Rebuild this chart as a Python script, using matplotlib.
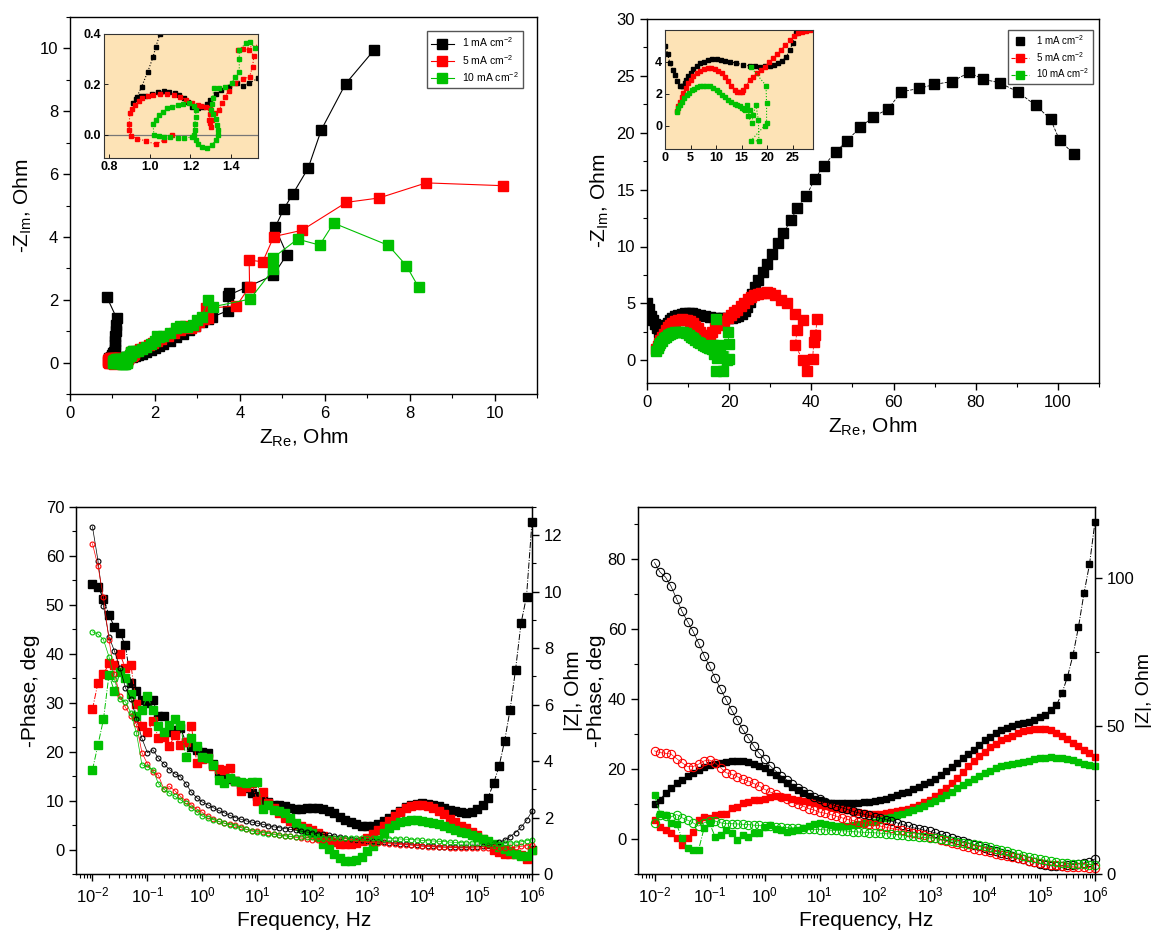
import matplotlib.pyplot as plt
from matplotlib.ticker import MultipleLocator, LogLocator, NullFormatter
from matplotlib.lines import Line2D
import numpy as np

plt.rcParams['font.family'] = ['Liberation Sans', 'DejaVu Sans']
plt.rcParams['mathtext.fontset'] = 'custom'
plt.rcParams['mathtext.rm'] = 'Liberation Sans'
plt.rcParams['mathtext.it'] = 'Liberation Sans:italic'
plt.rcParams['mathtext.bf'] = 'Liberation Sans:bold'

BLACK, RED, GREEN = '#000000', '#ff0000', '#00c000'
INSET_BG = '#fde3b6'
labels = ['1 mA cm$^{-2}$', '5 mA cm$^{-2}$', '10 mA cm$^{-2}$']

# ---------------- Nyquist, left (Z_Re, -Z_Im) ----------------
a_black = [(0.87, 2.08), (1.10, 1.41), (1.09, 1.20), (1.08, 1.00), (1.07, 0.85), (1.065, 0.70),
           (1.06, 0.55), (1.05, 0.40), (1.03, 0.35), (1.016, 0.308), (0.99, 0.25), (0.96, 0.19),
           (0.937, 0.151), (0.92, 0.124), (0.93, 0.14), (0.955, 0.152), (0.978, 0.155), (1.013, 0.16),
           (1.04, 0.168), (1.069, 0.173), (1.095, 0.17), (1.122, 0.167), (1.145, 0.158), (1.166, 0.147),
           (1.19, 0.128), (1.21, 0.11), (1.236, 0.104), (1.262, 0.11), (1.28, 0.122), (1.298, 0.137),
           (1.325, 0.16), (1.35, 0.177), (1.39, 0.19), (1.43, 0.204), (1.456, 0.193), (1.49, 0.205),
           (1.532, 0.224), (1.6, 0.25), (1.7, 0.28), (1.8, 0.33), (1.9, 0.40), (2.0, 0.47), (2.1, 0.53),
           (2.2, 0.60), (2.35, 0.70), (2.5, 0.80), (2.65, 0.92), (2.8, 1.03), (2.95, 1.15), (3.1, 1.28),
           (3.25, 1.38), (3.35, 1.45), (3.71, 1.65), (3.74, 2.20), (3.71, 2.13), (4.16, 2.40),
           (4.79, 2.78), (5.11, 3.44), (4.83, 4.30), (5.04, 4.90), (5.25, 5.37), (5.61, 6.19),
           (5.92, 7.41), (6.49, 8.87), (7.17, 9.96)]
a_red = [(1.11, 0.0), (1.07, -0.02), (1.03, -0.039), (0.98, -0.025), (0.937, -0.016), (0.91, -0.005),
         (0.899, 0.02), (0.899, 0.044), (0.902, 0.084), (0.915, 0.10), (0.928, 0.117), (0.945, 0.132),
         (0.964, 0.144), (0.99, 0.152), (1.016, 0.157), (1.05, 0.16), (1.087, 0.16), (1.12, 0.156),
         (1.148, 0.151), (1.18, 0.138), (1.21, 0.124), (1.235, 0.118), (1.254, 0.114), (1.275, 0.108),
         (1.298, 0.104), (1.295, 0.08), (1.293, 0.06), (1.298, 0.045), (1.30, 0.03), (1.305, 0.06),
         (1.32, 0.085), (1.342, 0.097), (1.355, 0.125), (1.368, 0.151), (1.39, 0.175), (1.42, 0.204),
         (1.46, 0.22), (1.491, 0.231), (1.505, 0.27), (1.512, 0.311), (1.49, 0.337), (1.46, 0.34),
         (1.435, 0.337), (1.55, 0.36), (1.65, 0.42), (1.75, 0.50), (1.85, 0.56), (1.95, 0.62),
         (2.05, 0.68), (2.15, 0.75), (2.3, 0.85), (2.45, 0.95), (2.6, 1.05), (2.7, 1.15), (2.85, 1.10),
         (2.95, 1.15), (3.05, 1.28), (3.15, 1.38), (3.24, 1.41), (3.21, 1.73), (3.92, 1.80),
         (4.23, 2.42), (4.22, 3.26), (4.54, 3.21), (4.80, 4.01), (5.46, 4.21), (6.51, 5.10),
         (7.28, 5.24), (8.39, 5.72), (10.21, 5.63)]
a_green = [(1.21, -0.01), (1.17, -0.013), (1.14, -0.013), (1.10, -0.01), (1.07, -0.009), (1.043, -0.005),
           (1.02, 0.0), (1.016, 0.044), (1.03, 0.06), (1.043, 0.077), (1.065, 0.09), (1.087, 0.104),
           (1.11, 0.11), (1.14, 0.117), (1.165, 0.12), (1.192, 0.124), (1.215, 0.115), (1.227, 0.097),
           (1.225, 0.07), (1.222, 0.044), (1.22, 0.02), (1.218, -0.003), (1.226, -0.02), (1.236, -0.036),
           (1.255, -0.048), (1.28, -0.053), (1.305, -0.04), (1.324, -0.023), (1.335, 0.0), (1.337, 0.017),
           (1.332, 0.04), (1.324, 0.064), (1.31, 0.082), (1.30, 0.097), (1.305, 0.12), (1.31, 0.147),
           (1.315, 0.184), (1.34, 0.187), (1.368, 0.19), (1.403, 0.204), (1.42, 0.23), (1.44, 0.25),
           (1.44, 0.30), (1.44, 0.337), (1.474, 0.364), (1.491, 0.367), (1.518, 0.344), (1.6, 0.36),
           (1.7, 0.42), (1.8, 0.50), (1.9, 0.58), (2.0, 0.70), (2.06, 0.85), (2.1, 0.80), (2.2, 0.85),
           (2.35, 0.95), (2.5, 1.10), (2.6, 1.15), (2.75, 1.12), (2.9, 1.20), (3.0, 1.35), (3.1, 1.45),
           (3.26, 1.99), (3.38, 1.78), (4.24, 2.02), (4.79, 2.97), (4.77, 3.32), (5.36, 3.93),
           (5.88, 3.74), (6.21, 4.44), (7.50, 3.73), (7.92, 3.09), (8.21, 2.40)]

# ---------------- Nyquist, right ----------------
b_black = [(0.0, 5.0), (0.5, 4.5), (0.98, 3.9), (1.5, 3.5), (1.96, 3.17), (2.4, 2.8), (2.94, 2.49),
           (3.26, 2.45), (3.6, 2.5), (3.9, 2.65), (4.2, 2.85), (4.57, 3.1), (5.0, 3.3), (5.55, 3.52),
           (6.2, 3.72), (6.85, 3.9), (7.6, 4.0), (8.5, 4.1), (9.3, 4.14), (10.1, 4.15), (11.0, 4.12),
           (11.75, 4.06), (12.8, 3.98), (14.0, 3.9), (15.3, 3.8), (16.6, 3.73), (17.6, 3.7), (18.6, 3.69),
           (19.6, 3.7), (20.6, 3.73), (21.4, 3.8), (22.2, 3.9), (23.0, 4.05), (23.8, 4.31), (24.4, 4.7),
           (25.0, 5.14), (25.6, 5.8), (26.2, 6.45), (27.0, 7.04), (28.2, 7.77), (29.3, 8.5), (30.4, 9.38),
           (31.9, 10.35), (33.2, 11.2), (35.0, 12.3), (36.6, 13.4), (38.7, 14.4), (40.8, 15.9),
           (43.0, 17.1), (45.9, 18.3), (48.7, 19.3), (51.9, 20.5), (55.1, 21.4), (58.7, 22.1),
           (61.9, 23.6), (66.3, 23.9), (69.9, 24.25), (74.2, 24.5), (78.4, 25.3), (81.8, 24.7),
           (85.8, 24.4), (90.2, 23.6), (94.6, 22.4), (98.2, 21.2), (100.4, 19.35), (103.9, 18.12)]
b_red = [(2.28, 0.95), (2.6, 1.25), (2.94, 1.51), (3.25, 1.78), (3.59, 2.03), (4.05, 2.35), (4.57, 2.65),
         (5.0, 2.88), (5.55, 3.1), (6.2, 3.3), (6.85, 3.44), (7.6, 3.54), (8.5, 3.59), (9.1, 3.57),
         (9.8, 3.52), (10.4, 3.42), (11.1, 3.27), (11.7, 3.05), (12.4, 2.8), (13.0, 2.5), (13.7, 2.24),
         (14.2, 2.12), (14.6, 2.09), (15.0, 2.13), (15.3, 2.24), (15.9, 2.5), (16.6, 2.86), (17.3, 3.07),
         (17.95, 3.27), (18.8, 3.48), (19.6, 3.69), (20.4, 3.95), (21.2, 4.21), (22.0, 4.45), (22.8, 4.73),
         (23.6, 5.05), (24.5, 5.35), (25.3, 5.57), (26.1, 5.76), (26.9, 5.85), (27.7, 5.9), (28.5, 5.95),
         (29.3, 5.97), (30.0, 5.92), (31.2, 5.72), (32.6, 5.28), (34.1, 4.99), (35.9, 4.1), (37.9, 3.52),
         (36.5, 2.64), (36.1, 1.32), (37.9, 0.0), (39.0, -0.94), (40.3, 0.15), (40.6, 1.61), (41.0, 2.2),
         (41.4, 3.67)]
b_green = [(2.3, 0.85), (2.6, 1.1), (2.9, 1.3), (3.26, 1.51), (3.7, 1.72), (4.24, 1.93), (4.7, 2.07),
           (5.22, 2.2), (5.7, 2.3), (6.2, 2.4), (6.85, 2.47), (7.5, 2.5), (8.1, 2.5), (8.8, 2.49),
           (9.4, 2.38), (10.1, 2.24), (10.6, 2.08), (11.1, 1.93), (11.7, 1.78), (12.4, 1.62), (13.0, 1.5),
           (13.7, 1.37), (14.2, 1.28), (14.6, 1.2), (15.0, 1.1), (15.4, 1.05), (15.7, 1.0), (16.0, 1.3),
           (16.6, 1.0), (16.3, 0.58), (17.0, 0.17), (17.3, 0.68), (17.8, 1.3), (18.3, 0.37), (18.4, -0.94),
           (16.8, -0.94), (19.5, 0.0), (19.9, 0.15), (19.9, 1.41), (19.8, 2.5), (16.8, 3.67)]

# ---------------- Bode: log10(frequency / Hz) ----------------
log_f = [-2.0, -1.9, -1.8, -1.7, -1.6, -1.5, -1.4, -1.3, -1.2, -1.1,
         -1.0, -0.9, -0.8, -0.7, -0.6, -0.5, -0.4, -0.3, -0.2, -0.1,
         0.0, 0.1, 0.2, 0.3, 0.4, 0.5, 0.6, 0.7, 0.8, 0.9,
         1.0, 1.1, 1.2, 1.3, 1.4, 1.5, 1.6, 1.7, 1.8, 1.9,
         2.0, 2.1, 2.2, 2.3, 2.4, 2.5, 2.6, 2.7, 2.8, 2.9,
         3.0, 3.1, 3.2, 3.3, 3.4, 3.5, 3.6, 3.7, 3.8, 3.9,
         4.0, 4.1, 4.2, 4.3, 4.4, 4.5, 4.6, 4.7, 4.8, 4.9,
         5.0, 5.1, 5.2, 5.3, 5.4, 5.5, 5.6, 5.7, 5.8, 5.9, 6.0]

# bottom-left: -phase (deg)
c_phase_black = [54.2, 53.7, 51.3, 47.9, 45.5, 44.2, 41.7, 34.0, 32.3, 30.5,
                 30.0, 30.5, 27.2, 27.2, 24.1, 24.5, 24.8, 22.0, 21.0, 20.4,
                 20.0, 19.7, 17.5, 15.6, 15.0, 14.5, 14.0, 13.3, 12.5, 11.6,
                 11.0, 10.2, 9.8, 9.2, 9.0, 8.8, 8.4, 8.2, 8.2, 8.4,
                 8.5, 8.4, 8.2, 7.9, 7.4, 6.6, 6.1, 5.7, 5.2, 4.9,
                 4.8, 4.9, 5.2, 5.8, 6.5, 7.2, 7.9, 8.6, 9.2, 9.4,
                 9.5, 9.4, 9.2, 8.9, 8.5, 8.1, 7.8, 7.6, 7.5, 7.6,
                 8.2, 9.0, 10.6, 13.5, 17.0, 22.1, 28.5, 36.7, 46.2, 51.7, 67.0]
c_phase_red = [28.7, 34.1, 35.8, 38.1, 37.7, 40.0, 37.0, 37.7, 29.8, 25.2,
               24.1, 26.2, 22.8, 23.0, 21.1, 23.5, 21.4, 22.0, 25.2, 17.7,
               18.5, 18.7, 17.0, 16.5, 16.3, 16.7, 14.0, 11.9, 12.8, 13.6,
               9.9, 11.8, 9.5, 8.5, 7.5, 6.5, 5.8, 5.1, 4.8, 4.4,
               3.9, 3.4, 2.7, 2.0, 1.6, 1.2, 1.2, 1.2, 1.4, 1.7,
               2.3, 3.2, 4.0, 4.8, 5.8, 6.8, 7.6, 8.4, 8.9, 9.2,
               9.2, 8.9, 8.5, 7.9, 7.2, 6.3, 5.6, 4.9, 4.3, 3.6,
               3.0, 2.2, 1.2, 0.0, -0.6, -1.0, -1.0, -1.0, -1.2, -2.0, 0.0]
c_phase_green = [16.3, 21.4, 26.6, 35.7, 32.3, 36.2, 35.0, 31.7, 27.2, 28.6,
                 31.3, 28.6, 25.2, 24.1, 25.5, 26.6, 25.5, 19.0, 22.8, 21.1,
                 19.0, 18.7, 17.3, 14.3, 13.6, 14.6, 14.0, 13.9, 13.6, 13.9,
                 13.9, 8.2, 9.2, 8.0, 7.8, 7.5, 6.4, 5.4, 4.4, 3.8,
                 3.3, 2.6, 1.2, 0.2, -1.0, -1.8, -2.3, -2.4, -2.2, -1.5,
                 -0.3, 0.8, 2.0, 3.3, 4.3, 5.1, 5.6, 5.9, 6.1, 6.1,
                 5.9, 5.7, 5.5, 5.2, 4.9, 4.5, 4.0, 3.6, 3.3, 2.9,
                 2.6, 2.2, 1.7, 1.1, 0.6, 0.2, -0.4, -1.0, -1.3, -1.4, 0.0]
# bottom-left: |Z| (Ohm)
c_mod_black = [12.3, 11.1, 9.5, 8.4, 7.9, 7.3, 6.6, 6.2, 5.5, 4.8,
               4.3, 4.4, 4.1, 3.9, 3.7, 3.55, 3.45, 3.2, 2.9, 2.7,
               2.55, 2.45, 2.35, 2.25, 2.17, 2.08, 2.0, 1.94, 1.88, 1.84,
               1.8, 1.76, 1.71, 1.67, 1.64, 1.61, 1.58, 1.55, 1.52, 1.49,
               1.46, 1.43, 1.40, 1.37, 1.34, 1.31, 1.28, 1.25, 1.22, 1.2,
               1.18, 1.16, 1.14, 1.12, 1.1, 1.09, 1.07, 1.05, 1.04, 1.02,
               1.0, 0.99, 0.98, 0.97, 0.96, 0.95, 0.94, 0.94, 0.94, 0.95,
               0.96, 0.98, 1.01, 1.05, 1.12, 1.2, 1.32, 1.47, 1.65, 1.9, 2.22]
c_mod_red = [11.7, 10.9, 9.8, 8.3, 7.1, 6.3, 5.9, 5.6, 5.3, 4.3,
             3.9, 3.6, 3.5, 3.0, 3.1, 2.95, 2.75, 2.6, 2.45, 2.3,
             2.18, 2.05, 1.94, 1.86, 1.8, 1.76, 1.74, 1.66, 1.58, 1.54,
             1.51, 1.48, 1.45, 1.42, 1.39, 1.36, 1.33, 1.3, 1.27, 1.24,
             1.22, 1.21, 1.21, 1.21, 1.21, 1.2, 1.19, 1.18, 1.16, 1.14,
             1.12, 1.11, 1.1, 1.09, 1.07, 1.05, 1.04, 1.03, 1.02, 1.0,
             0.98, 0.97, 0.96, 0.95, 0.94, 0.93, 0.93, 0.92, 0.92, 0.92,
             0.92, 0.92, 0.93, 0.94, 0.93, 0.92, 0.94, 0.95, 0.98, 1.0, 1.04]
c_mod_green = [8.58, 8.5, 8.3, 7.7, 6.9, 6.2, 6.1, 5.7, 5.0, 3.87,
               3.8, 3.7, 3.2, 3.0, 2.86, 2.75, 2.63, 2.5, 2.35, 2.2,
               2.05, 1.98, 1.92, 1.86, 1.8, 1.75, 1.7, 1.64, 1.58, 1.52,
               1.48, 1.46, 1.43, 1.4, 1.37, 1.35, 1.33, 1.32, 1.31, 1.3,
               1.3, 1.29, 1.28, 1.28, 1.27, 1.27, 1.27, 1.27, 1.27, 1.26,
               1.26, 1.26, 1.26, 1.25, 1.25, 1.25, 1.24, 1.23, 1.22, 1.21,
               1.19, 1.18, 1.17, 1.16, 1.15, 1.13, 1.12, 1.11, 1.1, 1.1,
               1.1, 1.09, 1.08, 1.07, 1.08, 1.1, 1.1, 1.1, 1.14, 1.18, 1.21]

# bottom-right: -phase (deg)
d_phase_black = [10.0, 11.2, 13.1, 14.5, 15.9, 16.9, 18.0, 18.8, 19.7, 20.5,
                 21.2, 21.6, 21.8, 22.1, 22.3, 22.4, 22.4, 22.1, 21.6, 21.0,
                 20.2, 19.3, 18.3, 17.1, 15.9, 15.0, 14.0, 13.1, 12.3, 11.6,
                 11.2, 10.7, 10.4, 10.2, 10.2, 10.2, 10.2, 10.4, 10.5, 10.7,
                 11.0, 11.3, 11.6, 12.1, 12.6, 13.1, 13.5, 14.2, 15.0, 15.7,
                 16.4, 17.3, 18.3, 19.5, 20.7, 21.8, 23.1, 24.3, 25.6, 26.9,
                 28.3, 29.3, 30.2, 31.2, 31.9, 32.3, 32.9, 33.3, 33.6, 34.2,
                 34.8, 35.5, 36.9, 38.3, 41.7, 46.4, 52.6, 60.7, 70.3, 78.6, 90.8]
d_phase_red = [5.4, 3.5, 2.6, 1.6, 0.2, -1.7, 0.2, 2.1, 5.4, 6.4,
               5.9, 6.9, 7.3, 7.3, 8.8, 9.2, 10.2, 10.7, 11.2, 11.3,
               11.6, 12.1, 12.3, 12.1, 11.9, 11.6, 11.3, 11.0, 10.7, 10.2,
               9.7, 9.4, 9.1, 8.8, 8.5, 8.2, 8.0, 7.7, 7.5, 7.3,
               7.3, 7.3, 7.4, 7.6, 7.9, 8.3, 8.7, 9.2, 9.8, 10.5,
               11.3, 12.3, 13.4, 14.7, 16.1, 17.5, 19.1, 20.8, 22.4, 23.8,
               25.0, 26.3, 27.3, 28.2, 29.0, 29.6, 30.2, 30.8, 31.2, 31.5,
               31.6, 31.6, 31.3, 30.4, 29.5, 28.5, 27.5, 26.5, 25.6, 24.5, 23.5]
d_phase_green = [12.6, 7.3, 6.9, 4.5, 4.2, 0.2, -2.7, -3.1, -3.1, 3.1,
                 4.5, 0.7, 1.1, 2.6, 1.6, -0.3, 1.1, 0.7, 1.6, 1.6,
                 3.5, 4.0, 3.0, 2.5, 2.1, 2.4, 2.6, 3.2, 3.8, 4.3,
                 4.5, 4.2, 4.0, 3.7, 3.6, 3.8, 4.0, 4.2, 4.5, 4.8,
                 5.0, 5.4, 5.9, 6.4, 6.9, 7.3, 7.8, 8.3, 8.8, 9.5,
                 10.2, 10.9, 11.7, 12.6, 13.5, 14.5, 15.4, 16.4, 17.3, 18.1,
                 18.8, 19.5, 20.2, 20.8, 21.2, 21.5, 21.8, 22.1, 22.4, 22.8,
                 23.1, 23.3, 23.4, 23.3, 23.1, 22.9, 22.6, 22.1, 21.6, 21.2, 20.9]
# bottom-right: |Z| (Ohm)
d_mod_black = [105.2, 102.0, 100.3, 97.2, 93.0, 88.7, 85.3, 82.0, 78.0, 73.8,
               70.2, 66.2, 62.5, 58.9, 55.4, 52.1, 48.9, 46.1, 43.3, 40.8,
               38.8, 36.5, 34.8, 33.1, 31.8, 30.3, 29.2, 28.0, 26.9, 26.0,
               25.2, 24.4, 23.7, 22.9, 22.4, 21.8, 21.2, 20.7, 20.2, 19.8,
               19.3, 18.9, 18.4, 17.9, 17.3, 16.7, 16.2, 15.6, 15.3, 14.8,
               14.4, 13.9, 13.3, 12.8, 12.2, 11.6, 11.1, 10.5, 9.9, 9.4,
               8.8, 8.2, 7.7, 7.1, 6.6, 6.0, 5.4, 4.9, 4.4, 3.9,
               3.5, 3.1, 2.8, 2.7, 2.8, 3.0, 3.2, 3.5, 3.7, 4.1, 5.1]
d_mod_red = [41.6, 41.0, 40.8, 40.5, 39.0, 37.6, 36.3, 36.3, 37.1, 38.2,
             38.5, 37.6, 35.9, 34.2, 33.7, 32.9, 32.0, 31.4, 30.6, 29.7,
             28.6, 27.7, 26.9, 26.1, 25.2, 24.4, 23.5, 22.9, 22.1, 21.6,
             20.9, 20.5, 20.1, 19.5, 19.0, 18.4, 18.1, 17.6, 17.3, 16.9,
             16.5, 16.2, 15.8, 15.4, 15.0, 14.7, 14.2, 13.9, 13.6, 13.1,
             12.5, 12.0, 11.5, 11.0, 10.5, 10.0, 9.5, 9.0, 8.5, 8.1,
             7.7, 7.3, 6.9, 6.5, 6.1, 5.7, 5.3, 4.9, 4.5, 4.1,
             3.7, 3.4, 3.1, 2.9, 2.7, 2.5, 2.4, 2.3, 2.2, 2.1, 2.0]
d_mod_green = [17.3, 20.1, 19.5, 19.3, 20.1, 19.0, 18.2, 17.3, 16.2, 17.3,
               17.9, 17.9, 17.3, 17.0, 17.0, 16.9, 16.8, 16.7, 16.5, 16.4,
               16.2, 16.1, 16.0, 15.8, 15.7, 15.6, 15.5, 15.3, 15.2, 15.1,
               15.0, 14.9, 14.8, 14.7, 14.6, 14.5, 14.3, 14.2, 14.1, 14.0,
               13.9, 13.8, 13.6, 13.5, 13.3, 13.1, 12.9, 12.7, 12.5, 12.4,
               12.2, 12.0, 11.7, 11.5, 11.2, 10.9, 10.6, 10.3, 10.0, 9.7,
               9.4, 9.0, 8.6, 8.2, 7.7, 7.2, 6.7, 6.2, 5.7, 5.3,
               4.9, 4.6, 4.3, 4.0, 3.8, 3.7, 3.5, 3.4, 3.3, 3.2, 3.2]

W, H = 1151, 932


def rect(left, top, right, bottom):
    # pixel box -> figure fraction
    return [left / W, 1 - bottom / H, (right - left) / W, (bottom - top) / H]


def style(ax, fs):
    ax.tick_params(which='both', direction='out', top=False, right=False, labelsize=fs)
    ax.tick_params(which='major', length=5, width=1)
    ax.tick_params(which='minor', length=3, width=0.8)
    for s in ax.spines.values():
        s.set_linewidth(1.0)


def style_inset(ax):
    ax.set_facecolor(INSET_BG)
    ax.tick_params(which='both', direction='in', length=3, width=0.6, labelsize=9, pad=2)
    for s in ax.spines.values():
        s.set_linewidth(0.8)
        s.set_color('#333333')
    for lbl in ax.get_xticklabels() + ax.get_yticklabels():
        lbl.set_fontweight('bold')


colors = [BLACK, RED, GREEN]
ZRE = 'Z$_{\\mathrm{Re}}$, Ohm'
ZIM = '-Z$_{\\mathrm{Im}}$, Ohm'
fig = plt.figure(figsize=(W / 100, H / 100), dpi=100)

# ---- top left Nyquist ----
axA = fig.add_axes(rect(70, 17, 537, 394))
for pts, c, lab in zip([a_black, a_red, a_green], colors, labels):
    x, y = zip(*pts)
    axA.plot(x, y, '-', marker='s', color=c, ms=6.5, lw=0.8, label=lab)
axA.set_xlim(0, 11)
axA.set_ylim(-1, 11)
axA.xaxis.set_major_locator(MultipleLocator(2))
axA.xaxis.set_minor_locator(MultipleLocator(1))
axA.yaxis.set_major_locator(MultipleLocator(2))
axA.yaxis.set_minor_locator(MultipleLocator(1))
style(axA, 12)
axA.set_xlabel(ZRE, fontsize=15)
axA.set_ylabel(ZIM, fontsize=15)
axA.legend(loc='upper right', bbox_to_anchor=(0.981, 0.976), fontsize=7.5, fancybox=False,
           edgecolor='#555555', framealpha=1, handlelength=2.2, borderpad=0.4, labelspacing=0.35)

# ---- top right Nyquist ----
axB = fig.add_axes(rect(647, 19, 1099, 383))
for pts, c in zip([b_black, b_red, b_green], colors):
    x, y = zip(*pts)
    axB.plot(x, y, '--', marker='s', color=c, ms=6.5, lw=0.6)
axB.set_xlim(0, 110)
axB.set_ylim(-2, 30)
axB.xaxis.set_major_locator(MultipleLocator(20))
axB.xaxis.set_minor_locator(MultipleLocator(10))
axB.yaxis.set_major_locator(MultipleLocator(5))
axB.yaxis.set_minor_locator(MultipleLocator(2.5))
style(axB, 12)
axB.set_xlabel(ZRE, fontsize=15)
axB.set_ylabel(ZIM, fontsize=15)
handlesB = [Line2D([], [], ls='none', marker='s', color=BLACK, ms=6),
            Line2D([], [], ls='--', marker='s', color=RED, ms=6, lw=0.8),
            Line2D([], [], ls='--', marker='s', color=GREEN, ms=6, lw=0.8)]
axB.legend(handlesB, labels, loc='upper right', bbox_to_anchor=(0.998, 0.984), fontsize=7,
           fancybox=False, edgecolor='#555555', framealpha=1, handlelength=1.8, borderpad=0.35,
           labelspacing=0.3)

# ---- bottom panels ----
freq = 10.0 ** np.array(log_f)


def bode(rc, phases, mods, sq_ms, ci_ms, ylim_l, ylim_r, l_major, l_minor, r_major, r_minor):
    ax = fig.add_axes(rc)
    ax2 = ax.twinx()
    for ph, c in zip(phases, colors):
        ax.plot(freq, ph, '-.', marker='s', color=c, ms=sq_ms, lw=0.7, clip_on=False, zorder=3)
    for md, c in zip(mods, colors):
        ax2.plot(freq, md, '-', marker='o', color=c, mfc='none', ms=ci_ms, mew=0.8, lw=0.5,
                 clip_on=False)
    ax.set_xscale('log')
    ax.set_xlim(10 ** -2.3, 1e6)
    ax.set_xticks([1e-2, 1e-1, 1e0, 1e1, 1e2, 1e3, 1e4, 1e5, 1e6])
    ax.xaxis.set_minor_locator(LogLocator(base=10, subs=np.arange(2, 10) * 1.0, numticks=20))
    ax.xaxis.set_minor_formatter(NullFormatter())
    ax.set_ylim(*ylim_l)
    ax.yaxis.set_major_locator(MultipleLocator(l_major))
    ax.yaxis.set_minor_locator(MultipleLocator(l_minor))
    ax2.set_ylim(*ylim_r)
    ax2.yaxis.set_major_locator(MultipleLocator(r_major))
    ax2.yaxis.set_minor_locator(MultipleLocator(r_minor))
    style(ax, 12)
    ax2.tick_params(which='both', direction='out', labelsize=12)
    ax2.tick_params(which='major', length=5, width=1)
    ax2.tick_params(which='minor', length=3, width=0.8)
    ax.set_xlabel('Frequency, Hz', fontsize=15)
    return ax, ax2


axC, axC2 = bode(rect(76, 507, 532, 874), [c_phase_black, c_phase_red, c_phase_green],
                 [c_mod_black, c_mod_red, c_mod_green], 6, 3.5, (-5, 70), (0, 13), 10, 5, 2, 1)
axC.set_ylabel('-Phase, deg', fontsize=15)
axC2.set_ylabel('|Z|, Ohm', fontsize=15, labelpad=1)

axD, axD2 = bode(rect(638, 507, 1095, 874), [d_phase_black, d_phase_red, d_phase_green],
                 [d_mod_black, d_mod_red, d_mod_green], 5, 6, (-10, 95), (0, 124), 20, 10, 50, 25)
axD.set_yticks([0, 20, 40, 60, 80])
axD.set_ylabel('-Phase, deg', fontsize=15, labelpad=1)
axD2.set_ylabel('|Z|, Ohm', fontsize=14, labelpad=1)

# ---- insets ----
insA = fig.add_axes(rect(104, 34, 258, 158))
insA.axhline(0, color='#777777', lw=0.9, zorder=1)
for pts, c in zip([a_black, a_red, a_green], colors):
    x, y = zip(*pts)
    insA.plot(x, y, ':', marker='s', color=c, ms=2.3, lw=0.8)
insA.set_xlim(0.775, 1.532)
insA.set_ylim(-0.093, 0.4)
insA.set_xticks([0.8, 1.0, 1.2, 1.4])
insA.set_yticks([0.0, 0.2, 0.4])
insA.xaxis.set_major_formatter('{x:.1f}')
insA.yaxis.set_major_formatter('{x:.1f}')
style_inset(insA)

insB = fig.add_axes(rect(665, 30, 813, 149))
for pts, c in zip([b_black, b_red, b_green], colors):
    x, y = zip(*pts)
    insB.plot(x, y, ':', marker='s', color=c, ms=2.3, lw=0.8)
insB.set_xlim(0, 29)
insB.set_ylim(-1.45, 5.97)
insB.set_xticks([0, 5, 10, 15, 20, 25])
insB.set_yticks([0, 2, 4])
style_inset(insB)

fig.savefig('out.png', dpi=100)
